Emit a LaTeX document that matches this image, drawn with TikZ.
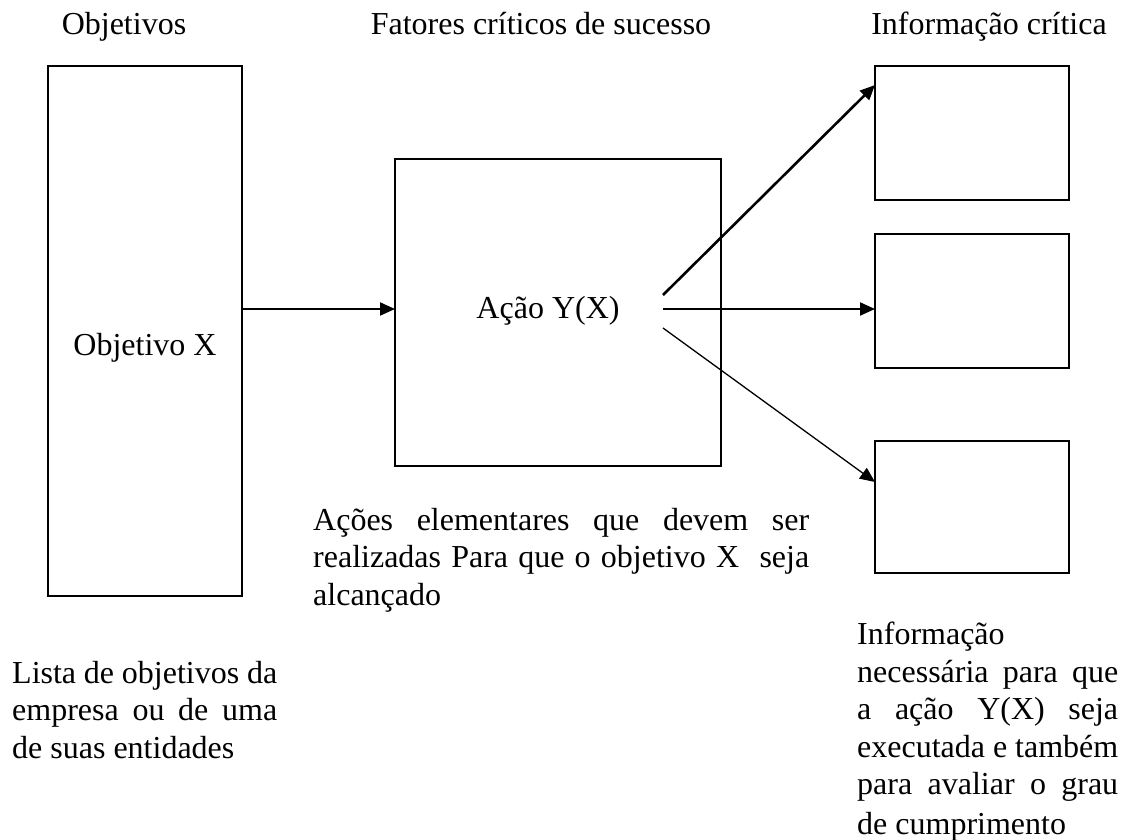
\documentclass[tikz,border=0pt]{standalone}
\usepackage{fontspec}
\setmainfont{Liberation Serif}
\usetikzlibrary{arrows.meta}
\newcommand{\jl}[2]{\makebox[#1][s]{#2}}
\begin{document}
\begin{tikzpicture}[x=1pt,y=-1pt,
  box/.style={draw, line width=2pt, inner sep=0pt, outer sep=0pt},
  txt/.style={inner sep=0pt, font=\fontsize{32}{37.5}\selectfont},
  arr/.style={-{Triangle[length=15pt,width=13pt]}, line width=2pt},
]
\useasboundingbox (0,0) rectangle (1131,839);
% boxes
\node[box, minimum width=194pt, minimum height=530pt] (obj) at (145,331) {};
\node[box, minimum width=326pt, minimum height=307pt] (mid) at (558,312.5) {};
\node[box, minimum width=194pt, minimum height=134pt] (r1) at (972,133) {};
\node[box, minimum width=194pt, minimum height=134pt] (r2) at (972,301) {};
\node[box, minimum width=194pt, minimum height=132pt] (r3) at (972,507) {};
% headers
\node[txt, anchor=base] (h1) at (124,34) {Objetivos};
\node[txt, anchor=base] (h2) at (541,34) {Fatores críticos de sucesso};
\node[txt, anchor=base] (h3) at (989,34) {Informação crítica};
% inner labels
\node[txt, anchor=base] (ox) at (145,355) {Objetivo X};
\node[txt, anchor=base] (ay) at (548,318) {Ação Y(X)};
% arrow start points
\coordinate (s1) at (663,295);
\coordinate (s2) at (663,309);
\coordinate (s3) at (663,328);
% connectors
\draw[arr] (obj.east |- s2) -- (mid.west |- s2);
\draw[arr, line width=2.6pt] (s1) -- ([yshift=-19pt]r1.north west);
\draw[arr] (s2) -- (r2.west |- s2);
\draw[arr, line width=1.3pt] (s3) -- ([yshift=-41pt]r3.north west);
% descriptions (base anchor = baseline of the last line)
\node[txt, anchor=base west, align=left] (d2) at (313,605)
  {\jl{496pt}{Ações elementares que devem ser}\\
   \jl{496pt}{realizadas Para que o objetivo X\ \ seja}\\
   alcançado};
\node[txt, anchor=base west, align=left] (d1) at (12,758)
  {\jl{265pt}{Lista de objetivos da}\\
   \jl{265pt}{empresa ou de uma}\\
   de suas entidades};
\node[txt, anchor=base west, align=left] (d3) at (857,834)
  {Informação\\
   \jl{261pt}{necessária para que}\\
   \jl{261pt}{a ação Y(X) seja}\\
   \jl{261pt}{executada e também}\\
   \jl{261pt}{para avaliar o grau}\\[2pt]
   de cumprimento};
\end{tikzpicture}
\end{document}
